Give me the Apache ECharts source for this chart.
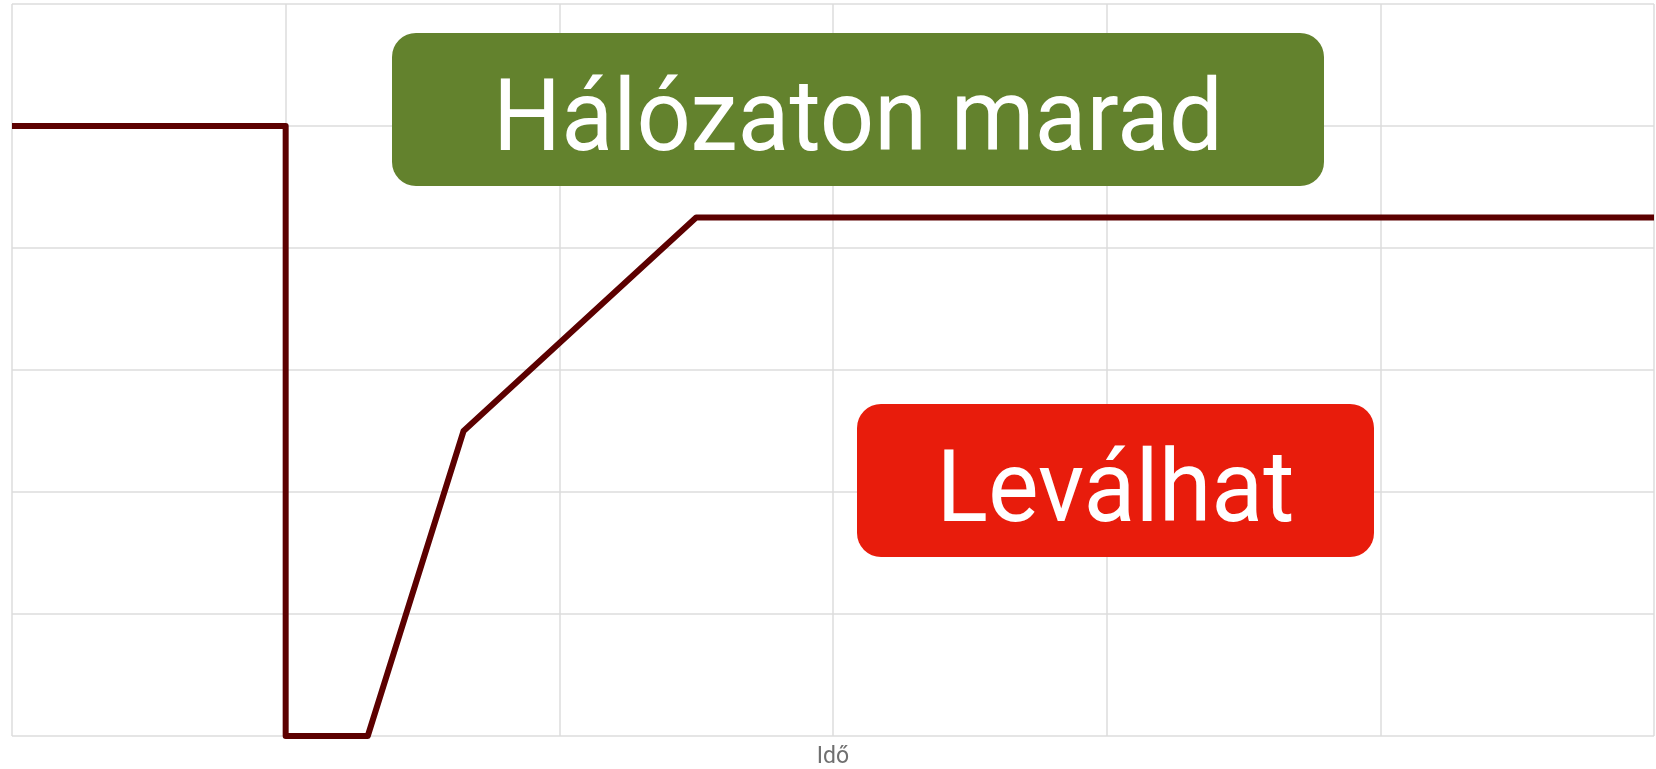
<!DOCTYPE html>
<html>
<head>
<meta charset="utf-8">
<script src="https://cdn.jsdelivr.net/npm/echarts@6/dist/echarts.min.js"></script>
<style>
  html, body { margin: 0; padding: 0; background: #fff; }
  #chart { width: 1656px; height: 769px; }
</style>
</head>
<body>
<div id="chart"></div>
<script>
// line path (x = time, y = level)
var timeValues = [0, 1, 1, 1.3, 1.65, 2.5, 6];
var levelValues = [5, 5, 0, 0, 2.5, 4.25, 4.25];
var axisName = 'Idő';
var boxTexts = ['Hálózaton marad', 'Leválhat'];
var boxColors = ['#63822d', '#e81c0c'];

var chart = echarts.init(document.getElementById('chart'));

var points = [];
for (var i = 0; i < timeValues.length; i++) {
    points.push([timeValues[i], levelValues[i]]);
}

var gridLine = { show: true, lineStyle: { color: '#dcdcdc', width: 1.5 } };

// rounded box with a big white caption
function labelBox(left, top, w, h, text, color) {
    return {
        type: 'group',
        left: left,
        top: top,
        z: 100,
        children: [
            { type: 'rect', z: 100, shape: { x: 0, y: 0, width: w, height: h, r: 24 }, style: { fill: color } },
            {
                type: 'text', z: 101, x: w / 2, y: 92, scaleX: 0.946,
                style: { text: text, fill: '#fff', fontSize: 101, fontFamily: 'Roboto', align: 'center', verticalAlign: 'middle' }
            }
        ]
    };
}

var option = {
    animation: false,
    grid: { left: 12, right: 2, top: 4, bottom: 33, containLabel: false, outerBoundsMode: 'none' },
    xAxis: {
        type: 'value',
        min: 0,
        max: 6,
        interval: 1,
        name: axisName,
        nameLocation: 'middle',
        nameGap: 10,
        nameTextStyle: { color: '#707070', fontSize: 23, fontFamily: 'Roboto' },
        axisLine: { show: false },
        axisTick: { show: false },
        axisLabel: { show: false },
        splitLine: gridLine
    },
    yAxis: {
        type: 'value',
        min: 0,
        max: 6,
        interval: 1,
        axisLine: { show: false },
        axisTick: { show: false },
        axisLabel: { show: false },
        splitLine: gridLine
    },
    series: [{
        type: 'line',
        data: points,
        symbol: 'none',
        clip: false,
        lineStyle: { color: '#5c0000', width: 6, join: 'round', cap: 'butt' }
    }],
    graphic: [
        labelBox(392, 33, 932, 153, boxTexts[0], boxColors[0]),
        labelBox(857, 404, 517, 153, boxTexts[1], boxColors[1])
    ]
};

chart.setOption(option);
</script>
</body>
</html>
